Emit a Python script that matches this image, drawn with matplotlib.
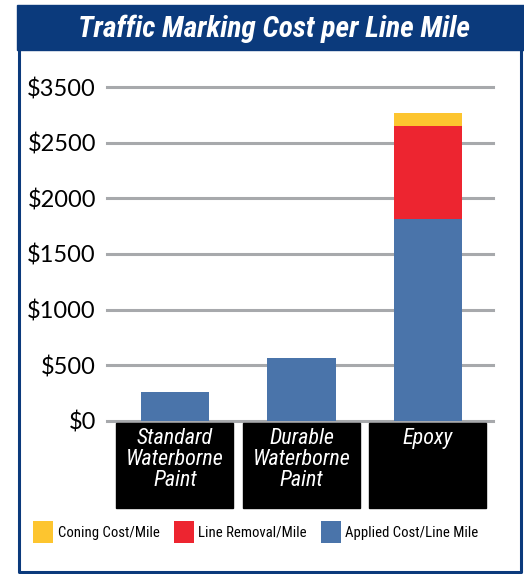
import matplotlib
matplotlib.use("Agg")
import matplotlib.pyplot as plt
from matplotlib import font_manager
from matplotlib.font_manager import FontProperties
from matplotlib.patches import Rectangle
from matplotlib.transforms import blended_transform_factory

# data
categories = ["Standard\nWaterborne\nPaint", "Durable\nWaterborne\nPaint", "Epoxy"]
applied = [258, 564, 1814]
removal = [0, 0, 839]
coning = [0, 0, 114]
series_names = ["Coning Cost/Mile", "Line Removal/Mile", "Applied Cost/Line Mile"]
tick_vals = [0, 500, 1000, 1500, 2000, 2500, 3000]
tick_labels = ["$0", "$500", "$1000", "$1500", "$2000", "$2500", "$3500"]

BLUE = "#4a74aa"
RED = "#ed2530"
YELLOW = "#fdc52f"
NAVY = "#0b3a7c"
GRID = "#a7a9ac"


def find_font(keys, **fallback):
    # look for a condensed / narrow face among the installed files
    files = [f.fname for f in font_manager.fontManager.ttflist]
    for k in keys:
        for fn in files:
            if k in fn.lower().replace(" ", "").replace("_", ""):
                return FontProperties(fname=fn)
    return FontProperties(family="DejaVu Sans", **fallback)


title_fp = find_font(["robotocondensed-bolditalic", "liberationsansnarrow-bolditalic",
                      "dejavusanscondensed-boldoblique"],
                     weight="bold", style="italic")
ital_fp = find_font(["robotocondensed-italic", "liberationsansnarrow-italic",
                     "dejavusanscondensed-oblique"], style="italic")
reg_fp = find_font(["robotocondensed-regular", "liberationsansnarrow-regular",
                    "dejavusanscondensed.ttf"])
tick_fp = find_font(["lato-regular.ttf", "lato-regular"])
tick_fp.set_size(17)

W, H = 524, 574
fig = plt.figure(figsize=(W / 100, H / 100), dpi=100)
renderer = fig.canvas.get_renderer()


def fx(px):
    return px / W


def fy(py):
    return 1 - py / H


def fit(t, target_px, max_size):
    # shrink a text until its width matches the reference
    t.set_fontsize(max_size)
    w = t.get_window_extent(renderer).width
    if w > target_px:
        t.set_fontsize(max_size * target_px / w)
    return t.get_fontsize()


# frame and title band
fig.patches.append(Rectangle((fx(17), fy(50)), fx(507), fy(5) - fy(50),
                             transform=fig.transFigure, color=NAVY, zorder=0))
fig.lines.append(plt.Line2D([fx(19), fx(19), fx(521), fx(521)],
                            [fy(50), fy(572), fy(572), fy(50)],
                            transform=fig.transFigure, color=NAVY, lw=2.2))
title = fig.text(fx(274), fy(29), "Traffic Marking Cost per Line Mile",
                 color="white", fontproperties=title_fp, ha="center", va="center")
fit(title, 394, 23)

# axes: $0 at y=420.7px, 55.6 px per $500
y0, per = 420.7, 55.6 / 500
top_px = 80
ax = fig.add_axes([fx(107), fy(y0), fx(493) - fx(107), (y0 - top_px) / H])
ax.set_ylim(0, (y0 - top_px) / per)
ax.set_xlim(-0.5375, 2.514)

x = range(len(categories))
width = 0.538
b1 = ax.bar(x, applied, width, color=BLUE, zorder=3)
b2 = ax.bar(x, removal, width, bottom=applied, color=RED, zorder=3)
bottoms = [a + r for a, r in zip(applied, removal)]
b3 = ax.bar(x, coning, width, bottom=bottoms, color=YELLOW, zorder=3)

for v in tick_vals:
    ax.axhline(v, color=GRID, lw=2.2, zorder=1, clip_on=False)
ax.set_yticks(tick_vals)
ax.set_yticklabels(tick_labels, fontproperties=tick_fp)
ax.tick_params(axis="y", length=0, pad=8)
ax.set_xticks([])
for s in ax.spines.values():
    s.set_visible(False)

# black category label boxes
tr = blended_transform_factory(ax.transData, fig.transFigure)
probe = fig.text(0, 0, "Waterborne", fontproperties=ital_fp)
cat_size = fit(probe, 98, 18)
probe.remove()
for i, name in enumerate(categories):
    ax.add_patch(Rectangle((i - 0.4625, fy(508)), 0.925, fy(423) - fy(508),
                           transform=tr, color="black", clip_on=False, zorder=2))
    ax.text(i, fy(428), name, transform=tr, color="white",
            fontproperties=ital_fp, fontsize=cat_size, ha="center", va="top",
            linespacing=1.0, clip_on=False)

probe = fig.text(0, 0, series_names[0], fontproperties=reg_fp)
leg_size = fit(probe, 102, 14)
probe.remove()
leg_fp = reg_fp.copy()
leg_fp.set_size(leg_size)
fig.legend([b3, b2, b1], series_names, loc="center left",
           bbox_to_anchor=(fx(20), fy(532)), ncol=3, frameon=False,
           handlelength=1.35, handleheight=2.0, handletextpad=0.3,
           columnspacing=0.95, prop=leg_fp)

fig.savefig("out.png", dpi=100)
